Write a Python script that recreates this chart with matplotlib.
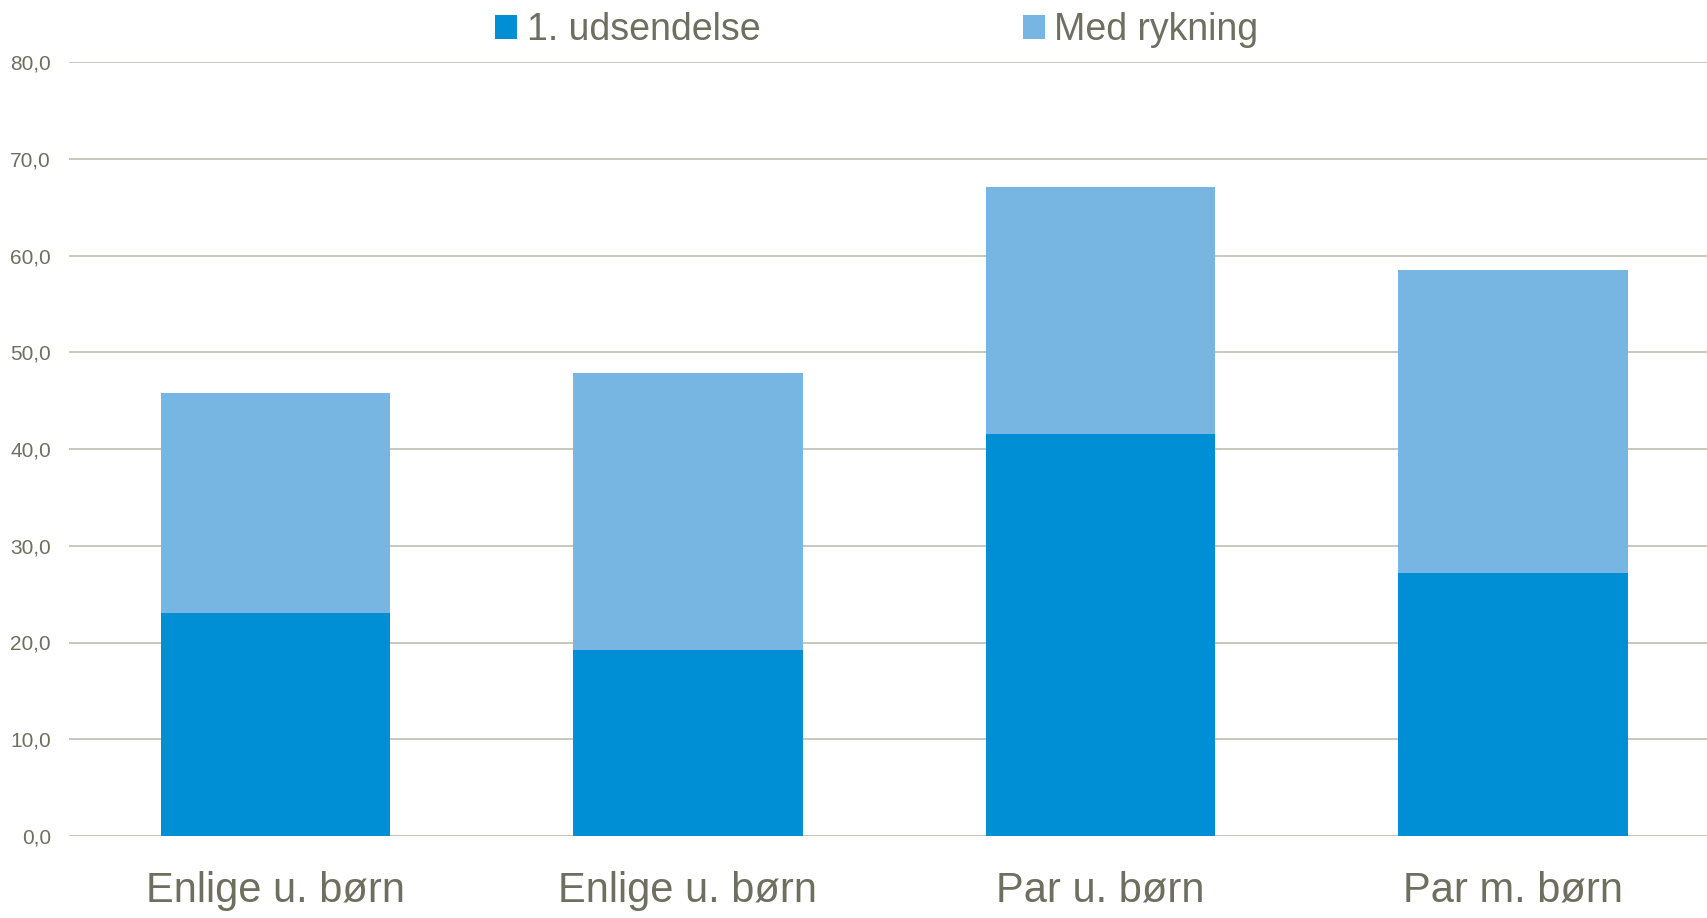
import matplotlib
matplotlib.use("Agg")
import matplotlib.pyplot as plt
import numpy as np

categories = ["Enlige u. børn", "Enlige u. børn", "Par u. børn", "Par m. børn"]
first_mailing = [23.0, 19.2, 41.5, 27.2]
with_reminder_total = [45.8, 47.9, 67.1, 58.5]
series_names = ["1. udsendelse", "Med rykning"]
yticks = [0, 10, 20, 30, 40, 50, 60, 70, 80]
ytick_labels = ["0,0", "10,0", "20,0", "30,0", "40,0", "50,0", "60,0", "70,0", "80,0"]

dark_blue = "#008fd5"
light_blue = "#77b5e3"
text_col = "#6f6f5f"
grid_col = "#bdbdb0"
fam = ["Liberation Sans Narrow", "Liberation Sans", "DejaVu Sans"]
plt.rcParams["font.family"] = fam

W, H = 1707, 918
fig = plt.figure(figsize=(W / 100, H / 100), dpi=100)
ax = fig.add_axes([69 / W, 82 / H, (W - 69) / W, (836 - 62) / H])

x = np.arange(len(categories))
reminder_part = [t - f for t, f in zip(with_reminder_total, first_mailing)]
b1 = ax.bar(x, first_mailing, width=0.556, color=dark_blue, label=series_names[0], zorder=2)
b2 = ax.bar(x, reminder_part, bottom=first_mailing, width=0.556, color=light_blue,
            label=series_names[1], zorder=2)

ax.set_xlim(-0.5, 3.47)
ax.set_ylim(0, 80)
ax.set_yticks(yticks)
ax.set_yticklabels(ytick_labels)
ax.set_xticks(x)
ax.set_xticklabels(categories)
for s in ax.spines.values():
    s.set_visible(False)
ax.yaxis.grid(True, color=grid_col, linewidth=1.2, zorder=0)
ax.set_axisbelow(True)
ax.tick_params(axis="y", length=0, pad=13, labelsize=15, labelcolor=text_col)
ax.tick_params(axis="x", length=0, pad=25, labelsize=30, labelcolor=text_col)

leg = ax.legend(handles=[b1, b2], loc="center", ncol=2,
                bbox_to_anchor=(877 / W, 1 - 30 / H), bbox_transform=fig.transFigure,
                frameon=False, fontsize=27, handlelength=0.59, handleheight=0.59,
                handletextpad=0.25, columnspacing=7.0, borderpad=0)
for t in leg.get_texts():
    t.set_color(text_col)

fig.savefig("out.png", dpi=100)
